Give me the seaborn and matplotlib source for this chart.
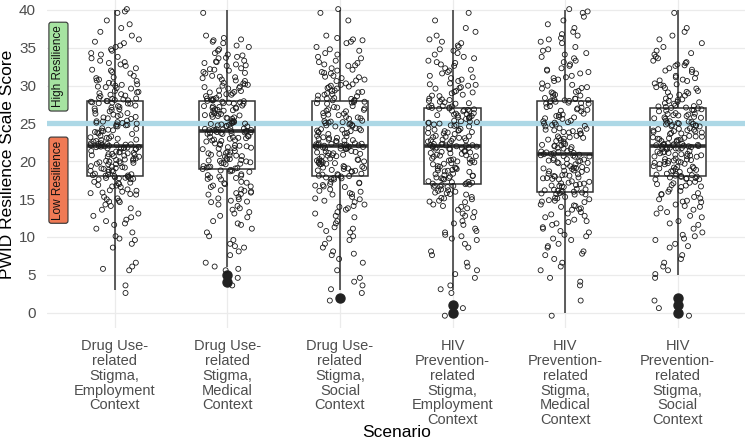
import numpy as np
import pandas as pd
import matplotlib
matplotlib.use("Agg")
import matplotlib.pyplot as plt
import seaborn as sns

# scenario labels (x axis)
scenarios = [
    "Drug Use-\nrelated\nStigma,\nEmployment\nContext",
    "Drug Use-\nrelated\nStigma,\nMedical\nContext",
    "Drug Use-\nrelated\nStigma,\nSocial\nContext",
    "HIV\nPrevention-\nrelated\nStigma,\nEmployment\nContext",
    "HIV\nPrevention-\nrelated\nStigma,\nMedical\nContext",
    "HIV\nPrevention-\nrelated\nStigma,\nSocial\nContext",
]

# resilience score values 0..40
scores = list(range(41))

# number of respondents at each score (0..40)
du_employment = [0, 0, 0, 1, 1, 0, 3, 1, 0, 2, 3, 2, 4, 3, 4, 6, 8, 8, 16, 12, 14,
                 14, 22, 10, 10, 12, 9, 9, 14, 8, 9, 6, 5, 5, 4, 4, 3, 2, 2, 1, 3]
du_medical = [0, 0, 0, 0, 1, 1, 3, 1, 2, 3, 2, 2, 3, 4, 4, 6, 8, 7, 8, 12, 12,
              11, 11, 12, 20, 14, 12, 12, 14, 9, 9, 7, 7, 7, 6, 4, 5, 1, 0, 0, 1]
du_social = [0, 0, 1, 2, 2, 1, 1, 2, 3, 2, 3, 4, 3, 4, 5, 5, 6, 8, 12, 12, 14,
             12, 22, 11, 12, 12, 9, 8, 12, 9, 8, 7, 6, 6, 4, 3, 5, 1, 0, 1, 2]
hiv_employment = [1, 1, 0, 2, 1, 2, 2, 1, 2, 2, 4, 3, 3, 4, 5, 7, 8, 14, 11, 11, 12,
                  12, 18, 12, 11, 12, 12, 14, 8, 7, 7, 5, 5, 5, 4, 4, 3, 2, 1, 1, 1]
hiv_medical = [1, 0, 1, 0, 2, 1, 2, 2, 3, 3, 4, 4, 5, 5, 7, 8, 14, 11, 12, 12, 12,
               14, 10, 10, 10, 9, 8, 8, 14, 7, 6, 5, 5, 4, 4, 3, 4, 3, 2, 2, 3]
hiv_social = [1, 1, 1, 0, 0, 2, 2, 2, 1, 3, 4, 2, 3, 4, 5, 6, 6, 8, 14, 12, 14,
              14, 20, 13, 13, 14, 12, 12, 8, 7, 7, 6, 5, 6, 4, 2, 2, 2, 1, 0, 1]

group_counts = [du_employment, du_medical, du_social,
                hiv_employment, hiv_medical, hiv_social]

rows = []
for name, counts in zip(scenarios, group_counts):
    vals = np.repeat(scores, counts)
    # spread tied scores evenly within +-0.4 so the points don't sit in rows
    # (the same idea as the height jitter in the original)
    offs = np.concatenate([((np.arange(c) * 0.618) % 1.0 - 0.5) * 0.8
                           for c in counts if c > 0])
    rows.append(pd.DataFrame({"Scenario": name, "Score": vals,
                              "ScoreShown": vals + offs}))
df = pd.concat(rows, ignore_index=True)

sns.set_theme(style="whitegrid")
plt.rcParams["font.family"] = ["Liberation Sans", "DejaVu Sans"]

fig = plt.figure(figsize=(7.49, 4.46), dpi=100)
ax = fig.add_axes([0.063, 0.265, 0.932, 0.735])

sns.boxplot(data=df, x="Scenario", y="Score", order=scenarios, width=0.5,
            color="white", linecolor="#333333", linewidth=1.1, showcaps=False,
            flierprops=dict(marker="o", markerfacecolor="#222222",
                            markeredgecolor="#222222", markersize=6.5),
            medianprops=dict(linewidth=2.6), ax=ax, zorder=2)

ax.axhline(25, color="#add8e6", linewidth=3.8, zorder=3)

n_before = len(ax.collections)
sns.stripplot(data=df, x="Scenario", y="ScoreShown", order=scenarios, jitter=0.22,
              size=3.6, color="black", linewidth=0.6, ax=ax, zorder=4)
for coll in ax.collections[n_before:]:
    coll.set_facecolor("none")
    coll.set_edgecolor("#1a1a1a")

ax.text(-0.5, 32.5, "High Resilience", rotation=90, ha="center", va="center",
        fontsize=8.5, color="#111111", zorder=5,
        bbox=dict(boxstyle="round,pad=0.3,rounding_size=0.2", fc="#a6e3a1",
                  ec="#333333", lw=0.8))
ax.text(-0.5, 17.5, "Low Resilience", rotation=90, ha="center", va="center",
        fontsize=8.5, color="#111111", zorder=5,
        bbox=dict(boxstyle="round,pad=0.3,rounding_size=0.2", fc="#ef7a55",
                  ec="#333333", lw=0.8))

ax.set_xlim(-0.6, 5.6)
ax.set_ylim(-2, 41.3)
ax.set_yticks(range(0, 41, 5))
ax.grid(True, color="#ebebeb", linewidth=0.9)
ax.set_axisbelow(True)
for s in ax.spines.values():
    s.set_visible(False)

ax.tick_params(axis="y", length=0, labelsize=11, colors="#4d4d4d", pad=8)
ax.tick_params(axis="x", length=0, labelsize=10.5, colors="#4d4d4d", pad=8)
for lab in ax.get_xticklabels():
    lab.set_linespacing(1.08)
ax.set_xlabel("Scenario", fontsize=12.5, color="black", labelpad=-2)
ax.set_ylabel("PWID Resilience Scale Score", fontsize=12.5, color="black",
              labelpad=3)

fig.savefig("out.png", dpi=100)
